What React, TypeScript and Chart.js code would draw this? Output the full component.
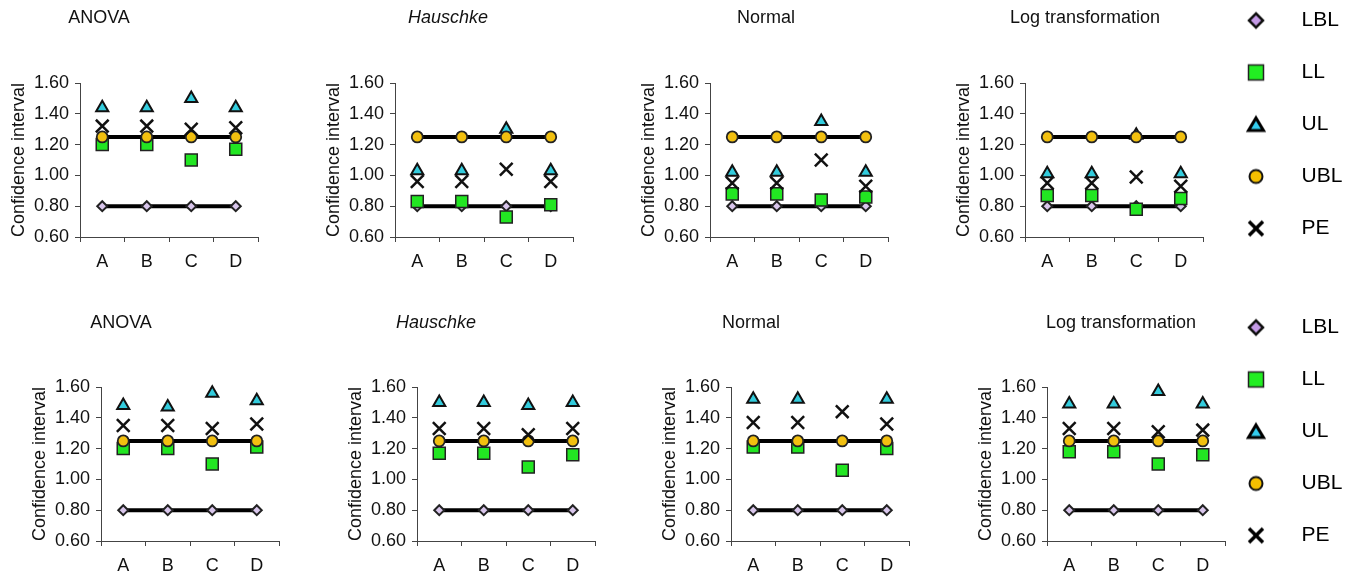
import React, { useEffect, useRef } from 'react';
import { Chart, registerables } from 'chart.js';

Chart.register(...registerables);

// ---------- data ----------
const categories = ['A', 'B', 'C', 'D'];
const yTickValues = [0.6, 0.8, 1.0, 1.2, 1.4, 1.6];
const legendLabels = ['LBL', 'LL', 'UL', 'UBL', 'PE'];
const panelTitles = ['ANOVA', 'Hauschke', 'Normal', 'Log transformation'];
const yAxisTitle = 'Confidence interval';

const LBL = [0.8, 0.8, 0.8, 0.8];
const UBL = [1.25, 1.25, 1.25, 1.25];

// top row
const topAnovaLL = [1.2, 1.2, 1.1, 1.17];
const topAnovaUL = [1.44, 1.44, 1.5, 1.44];
const topAnovaPE = [1.32, 1.32, 1.3, 1.31];

const topHauschkeLL = [0.83, 0.83, 0.73, 0.81];
const topHauschkeUL = [1.03, 1.03, 1.3, 1.03];
const topHauschkePE = [0.96, 0.96, 1.04, 0.96];

const topNormalLL = [0.88, 0.88, 0.84, 0.86];
const topNormalUL = [1.02, 1.02, 1.35, 1.02];
const topNormalPE = [0.95, 0.95, 1.1, 0.93];

const topLogLL = [0.87, 0.87, 0.78, 0.85];
const topLogUL = [1.01, 1.01, 1.26, 1.01];
const topLogPE = [0.95, 0.95, 0.99, 0.93];

// bottom row
const botAnovaLL = [1.2, 1.2, 1.1, 1.21];
const botAnovaUL = [1.48, 1.47, 1.56, 1.51];
const botAnovaPE = [1.35, 1.35, 1.33, 1.36];

const botHauschkeLL = [1.17, 1.17, 1.08, 1.16];
const botHauschkeUL = [1.5, 1.5, 1.48, 1.5];
const botHauschkePE = [1.33, 1.33, 1.29, 1.33];

const botNormalLL = [1.21, 1.21, 1.06, 1.2];
const botNormalUL = [1.52, 1.52, null, 1.52];
const botNormalPE = [1.37, 1.37, 1.44, 1.36];

const botLogLL = [1.18, 1.18, 1.1, 1.16];
const botLogUL = [1.49, 1.49, 1.57, 1.49];
const botLogPE = [1.33, 1.33, 1.31, 1.32];

// ---------- styling / layout ----------
const FONT = '"Liberation Sans", Arial, Helvetica, sans-serif';
const TEXT = '#111';
const AXIS = '#444';
const CANVAS_W = 270;
const CANVAS_H = 282;
const Y_AXIS_W = 80;
const PLOT_TOP = 83;

type PanelDef = {
  axisX: number;
  plotTop: number;
  titleX: number;
  titleY: number;
  title: string;
  italic: boolean;
  ll: (number | null)[];
  ul: (number | null)[];
  pe: (number | null)[];
};

const panels: PanelDef[] = [
  { axisX: 80, plotTop: 83, titleX: 99, titleY: 18, title: panelTitles[0], italic: false, ll: topAnovaLL, ul: topAnovaUL, pe: topAnovaPE },
  { axisX: 395, plotTop: 83, titleX: 448, titleY: 18, title: panelTitles[1], italic: true, ll: topHauschkeLL, ul: topHauschkeUL, pe: topHauschkePE },
  { axisX: 710, plotTop: 83, titleX: 766, titleY: 18, title: panelTitles[2], italic: false, ll: topNormalLL, ul: topNormalUL, pe: topNormalPE },
  { axisX: 1025, plotTop: 83, titleX: 1085, titleY: 18, title: panelTitles[3], italic: false, ll: topLogLL, ul: topLogUL, pe: topLogPE },
  { axisX: 101, plotTop: 387, titleX: 121, titleY: 323, title: panelTitles[0], italic: false, ll: botAnovaLL, ul: botAnovaUL, pe: botAnovaPE },
  { axisX: 417, plotTop: 387, titleX: 436, titleY: 323, title: panelTitles[1], italic: true, ll: botHauschkeLL, ul: botHauschkeUL, pe: botHauschkePE },
  { axisX: 731, plotTop: 387, titleX: 751, titleY: 323, title: panelTitles[2], italic: false, ll: botNormalLL, ul: botNormalUL, pe: botNormalPE },
  { axisX: 1047, plotTop: 387, titleX: 1121, titleY: 323, title: panelTitles[3], italic: false, ll: botLogLL, ul: botLogUL, pe: botLogPE },
];

const legendTops = [-21, 286];
const LEGEND_LEFT = 1190;

const panelTitlePlugin = {
  id: 'panelTitle',
  afterDraw(chart: any, _args: any, opts: any) {
    const ctx = chart.ctx;
    ctx.save();
    ctx.font = `${opts.italic ? 'italic ' : ''}18px ${FONT}`;
    ctx.fillStyle = TEXT;
    ctx.textAlign = 'center';
    ctx.textBaseline = 'middle';
    ctx.fillText(opts.text, opts.x, opts.y);
    ctx.restore();
  },
};

function Panel({ def }: { def: PanelDef }) {
  const ref = useRef<HTMLCanvasElement>(null);
  const left = def.axisX - Y_AXIS_W;
  const top = def.plotTop - PLOT_TOP;
  useEffect(() => {
    const tickFont = { family: FONT, size: 18 };
    const chart = new Chart(ref.current as HTMLCanvasElement, {
      type: 'line',
      data: {
        labels: categories,
        datasets: [
          {
            label: legendLabels[4], data: def.pe, showLine: false, clip: false as any,
            pointStyle: 'crossRot', pointRadius: 9, pointBorderColor: '#111', pointBackgroundColor: '#111',
            pointBorderWidth: 2.5, borderColor: '#111', order: 1,
          },
          {
            label: legendLabels[3], data: UBL, clip: false as any, borderColor: '#000', borderWidth: 4,
            pointStyle: 'circle', pointRadius: 5.5, pointBackgroundColor: '#f2c010', pointBorderColor: '#222',
            pointBorderWidth: 1.8, order: 2,
          },
          {
            label: legendLabels[2], data: def.ul, showLine: false, clip: false as any,
            pointStyle: 'triangle', pointRadius: 7, pointBackgroundColor: '#33ccdd', pointBorderColor: '#111',
            pointBorderWidth: 2, borderColor: '#111', order: 3,
          },
          {
            label: legendLabels[1], data: def.ll, showLine: false, clip: false as any,
            pointStyle: 'rect', pointRadius: 8.5, pointBackgroundColor: '#22e622', pointBorderColor: '#222',
            pointBorderWidth: 1.5, borderColor: '#222', order: 4,
          },
          {
            label: legendLabels[0], data: LBL, clip: false as any, borderColor: '#000', borderWidth: 4,
            pointStyle: 'rectRot', pointRadius: 5, pointBackgroundColor: '#d9c6ec', pointBorderColor: '#222',
            pointBorderWidth: 2, order: 5,
          },
        ],
      },
      options: {
        responsive: false,
        animation: false,
        events: [],
        layout: { padding: { top: PLOT_TOP, left: 0, right: CANVAS_W - Y_AXIS_W - 178, bottom: 0 } },
        plugins: {
          legend: { display: false },
          tooltip: { enabled: false },
          panelTitle: { text: def.title, italic: def.italic, x: def.titleX - left, y: def.titleY - top },
        } as any,
        scales: {
          x: {
            type: 'category',
            offset: true,
            afterFit: (s: any) => { s.height = 45; },
            grid: { offset: true, drawOnChartArea: false, drawTicks: true, tickLength: 5, tickColor: AXIS, color: AXIS },
            border: { color: AXIS, width: 1 },
            ticks: { color: TEXT, font: tickFont, padding: 9, maxRotation: 0, autoSkip: false },
          },
          y: {
            min: 0.6,
            max: 1.6,
            afterFit: (s: any) => { s.width = Y_AXIS_W; },
            afterBuildTicks: (s: any) => { s.ticks = yTickValues.map((v) => ({ value: v })); },
            grid: { drawOnChartArea: false, drawTicks: true, tickLength: 5, tickColor: AXIS, color: AXIS },
            border: { color: AXIS, width: 1 },
            ticks: {
              color: TEXT, font: tickFont, padding: 6,
              callback: (v: any) => Number(v).toFixed(2),
            },
            title: {
              display: true, text: yAxisTitle, color: TEXT,
              font: { family: FONT, size: 18 }, padding: { top: 8, bottom: 0 },
            },
          },
        },
      },
      plugins: [panelTitlePlugin],
    } as any);
    return () => chart.destroy();
  }, []);
  return (
    <canvas
      ref={ref}
      width={CANVAS_W}
      height={CANVAS_H}
      style={{ position: 'absolute', left, top, width: CANVAS_W, height: CANVAS_H }}
    />
  );
}

function makeMarker(kind: string): HTMLCanvasElement {
  const c = document.createElement('canvas');
  c.width = 24;
  c.height = 24;
  const g = c.getContext('2d') as CanvasRenderingContext2D;
  g.lineJoin = 'miter';
  g.beginPath();
  if (kind === 'LBL') {
    g.moveTo(12, 5); g.lineTo(19, 12); g.lineTo(12, 19); g.lineTo(5, 12); g.closePath();
    g.fillStyle = '#c49ae6'; g.fill();
    g.lineWidth = 2.5; g.strokeStyle = '#111'; g.stroke();
  } else if (kind === 'LL') {
    g.rect(4.5, 4.5, 15, 15);
    g.fillStyle = '#22ee22'; g.fill();
    g.lineWidth = 1.5; g.strokeStyle = '#222'; g.stroke();
  } else if (kind === 'UL') {
    g.moveTo(12, 5.5); g.lineTo(19.5, 18); g.lineTo(4.5, 18); g.closePath();
    g.fillStyle = '#33ccee'; g.fill();
    g.lineWidth = 3; g.strokeStyle = '#000'; g.stroke();
  } else if (kind === 'UBL') {
    g.arc(12, 12, 6.5, 0, Math.PI * 2);
    g.fillStyle = '#f5c000'; g.fill();
    g.lineWidth = 2; g.strokeStyle = '#111'; g.stroke();
  } else {
    g.moveTo(5, 5); g.lineTo(19, 19); g.moveTo(19, 5); g.lineTo(5, 19);
    g.lineWidth = 3.5; g.strokeStyle = '#000'; g.stroke();
  }
  return c;
}

function LegendBlock({ top }: { top: number }) {
  const ref = useRef<HTMLCanvasElement>(null);
  useEffect(() => {
    const markers = legendLabels.map((l) => makeMarker(l));
    const chart = new Chart(ref.current as HTMLCanvasElement, {
      type: 'line',
      data: { labels: [], datasets: legendLabels.map((l) => ({ label: l, data: [] })) },
      options: {
        responsive: false,
        animation: false,
        events: [],
        layout: { padding: 0 },
        scales: { x: { display: false }, y: { display: false } },
        plugins: {
          tooltip: { enabled: false },
          legend: {
            display: true,
            position: 'left',
            align: 'start',
            labels: {
              usePointStyle: true,
              pointStyleWidth: 70,
              padding: 31,
              color: TEXT,
              font: { family: FONT, size: 21 },
              generateLabels: () =>
                legendLabels.map((t, i) => ({
                  text: t,
                  pointStyle: markers[i],
                  fillStyle: '#000',
                  strokeStyle: '#000',
                  lineWidth: 0,
                  hidden: false,
                  datasetIndex: i,
                })),
            },
          },
        },
      },
    } as any);
    return () => chart.destroy();
  }, []);
  return (
    <canvas
      ref={ref}
      width={420}
      height={330}
      style={{ position: 'absolute', left: LEGEND_LEFT, top, width: 420, height: 330 }}
    />
  );
}

export default function App() {
  return (
    <div
      style={{
        position: 'absolute', left: 0, top: 0, width: 1361, height: 577,
        overflow: 'hidden', background: '#fff',
      }}
    >
      {panels.map((p, i) => (
        <Panel key={i} def={p} />
      ))}
      {legendTops.map((t, i) => (
        <LegendBlock key={'lg' + i} top={t} />
      ))}
    </div>
  );
}
